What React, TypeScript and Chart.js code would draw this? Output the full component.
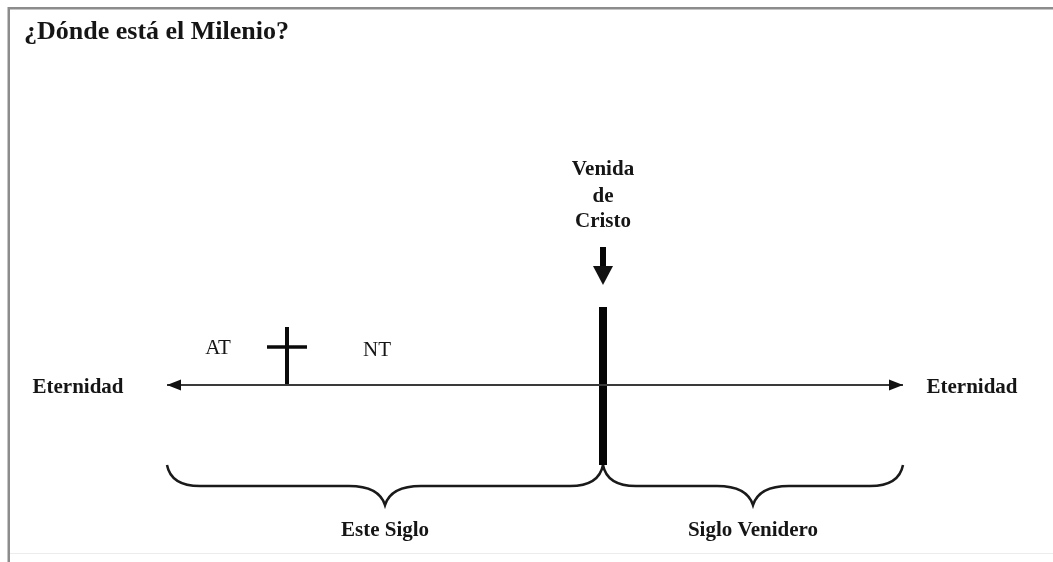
import React, { useEffect, useRef } from "react";
import { Chart, registerables } from "chart.js";

Chart.register(...registerables);

// ---- Diagram data (timeline units on a 0..1053 x 0..562 canvas scale) ----
const titleText = "¿Dónde está el Milenio?";
const titlePos = [24, 39];

const eternityLabels = ["Eternidad", "Eternidad"];
const eternityX = [78, 972];
const eternityY = [393, 393];

const timelineX = [167, 903];
const timelineY = [385, 385];

const crossStemX = [287, 287];
const crossStemY = [327, 386];
const crossArmX = [267, 307];
const crossArmY = [347, 347];

const eraLabels = ["AT", "NT"];
const eraX = [218, 377];
const eraY = [354, 356];

const comingBarX = [603, 603];
const comingBarY = [307, 465];
const comingShaftY = [247, 270];
const comingTipY = [285];
const comingLabels = ["Venida", "de", "Cristo"];
const comingLabelY = [175, 202, 227];

const ageLabels = ["Este Siglo", "Siglo Venidero"];
const ageStart = [167, 603];
const ageEnd = [603, 903];
const braceLevels = [465, 486, 505];
const ageLabelY = [536, 536];

const serif = '"Liberation Serif", "Times New Roman", serif';

const diagramPlugin = {
  id: "diagram",
  afterDatasetsDraw(chart: any) {
    const { ctx } = chart;
    const xs = chart.scales.x;
    const ys = chart.scales.y;
    const px = (v: number) => xs.getPixelForValue(v);
    const py = (v: number) => ys.getPixelForValue(v);

    ctx.save();
    // frame
    ctx.fillStyle = "#8c8c8c";
    ctx.fillRect(px(8), py(7), px(1053) - px(8), 2.5);
    ctx.fillRect(px(7.5), py(7), 2.5, py(562) - py(7));
    ctx.fillStyle = "#ececec";
    ctx.fillRect(px(10), py(553), px(1053) - px(10), 1);

    // arrowheads on the timeline
    ctx.fillStyle = "#111";
    const ty = py(timelineY[0]);
    ctx.beginPath();
    ctx.moveTo(px(timelineX[0]), ty);
    ctx.lineTo(px(timelineX[0] + 14), ty - 5.5);
    ctx.lineTo(px(timelineX[0] + 14), ty + 5.5);
    ctx.closePath();
    ctx.fill();
    ctx.beginPath();
    ctx.moveTo(px(timelineX[1]), ty);
    ctx.lineTo(px(timelineX[1] - 14), ty - 5.5);
    ctx.lineTo(px(timelineX[1] - 14), ty + 5.5);
    ctx.closePath();
    ctx.fill();

    // down arrow head
    const ax = px(comingBarX[0]);
    ctx.beginPath();
    ctx.moveTo(ax, py(comingTipY[0]));
    ctx.lineTo(ax - 10, py(comingShaftY[1] - 4));
    ctx.lineTo(ax + 10, py(comingShaftY[1] - 4));
    ctx.closePath();
    ctx.fill();

    // braces
    ctx.strokeStyle = "#1a1a1a";
    ctx.lineWidth = 2.5;
    const yT = py(braceLevels[0]);
    const yF = py(braceLevels[1]);
    const yP = py(braceLevels[2]);
    ageStart.forEach((a0, i) => {
      const a = px(a0);
      const b = px(ageEnd[i]);
      const m = (a + b) / 2;
      ctx.beginPath();
      ctx.moveTo(a, yT);
      ctx.quadraticCurveTo(a + 4, yF, a + 33, yF);
      ctx.lineTo(m - 36, yF);
      ctx.quadraticCurveTo(m - 6, yF, m, yP);
      ctx.quadraticCurveTo(m + 6, yF, m + 36, yF);
      ctx.lineTo(b - 33, yF);
      ctx.quadraticCurveTo(b - 4, yF, b, yT);
      ctx.stroke();
    });

    // texts
    const text = (t: string, x: number, y: number, font: string, align: CanvasTextAlign) => {
      ctx.font = font;
      ctx.textAlign = align;
      ctx.textBaseline = "alphabetic";
      ctx.fillStyle = "#151515";
      ctx.fillText(t, px(x), py(y));
    };
    text(titleText, titlePos[0], titlePos[1], `bold 26px ${serif}`, "left");
    eternityLabels.forEach((t, i) => text(t, eternityX[i], eternityY[i], `bold 21px ${serif}`, "center"));
    eraLabels.forEach((t, i) => text(t, eraX[i], eraY[i], `21px ${serif}`, "center"));
    comingLabels.forEach((t, i) => text(t, comingBarX[0], comingLabelY[i], `bold 21px ${serif}`, "center"));
    ageLabels.forEach((t, i) => text(t, (ageStart[i] + ageEnd[i]) / 2, ageLabelY[i], `bold 21px ${serif}`, "center"));
    ctx.restore();
  },
};

const seg = (xs: number[], ys: number[]) => xs.map((x, i) => ({ x, y: ys[i] }));

export default function App() {
  const ref = useRef<HTMLCanvasElement | null>(null);
  useEffect(() => {
    if (!ref.current) return;
    document.body.style.margin = "0";
    const lineDs = (data: any[], width: number, color: string) => ({
      data,
      showLine: true,
      borderColor: color,
      borderWidth: width,
      borderCapStyle: "butt",
      pointRadius: 0,
      fill: false,
    });
    const chart = new Chart(ref.current, {
      type: "scatter",
      data: {
        datasets: [
          lineDs(seg(timelineX, timelineY), 2, "#3a3a3a"),
          lineDs(seg(crossStemX, crossStemY), 4, "#0a0a0a"),
          lineDs(seg(crossArmX, crossArmY), 3.5, "#0a0a0a"),
          lineDs(seg(comingBarX, comingBarY), 8, "#050505"),
          lineDs(seg(comingBarX, comingShaftY), 6, "#050505"),
        ] as any,
      },
      options: {
        animation: false,
        responsive: false,
        devicePixelRatio: 1,
        events: [],
        layout: { padding: 0 },
        scales: {
          x: { type: "linear", min: 0, max: 1053, display: false },
          y: { type: "linear", min: 0, max: 562, reverse: true, display: false },
        },
        plugins: { legend: { display: false }, tooltip: { enabled: false } },
      },
      plugins: [diagramPlugin],
    });
    return () => chart.destroy();
  }, []);
  return (
    <div style={{ position: "absolute", left: 0, top: 0, width: 1053, height: 562, background: "#fff" }}>
      <canvas ref={ref} width={1053} height={562} style={{ display: "block" }} />
    </div>
  );
}
